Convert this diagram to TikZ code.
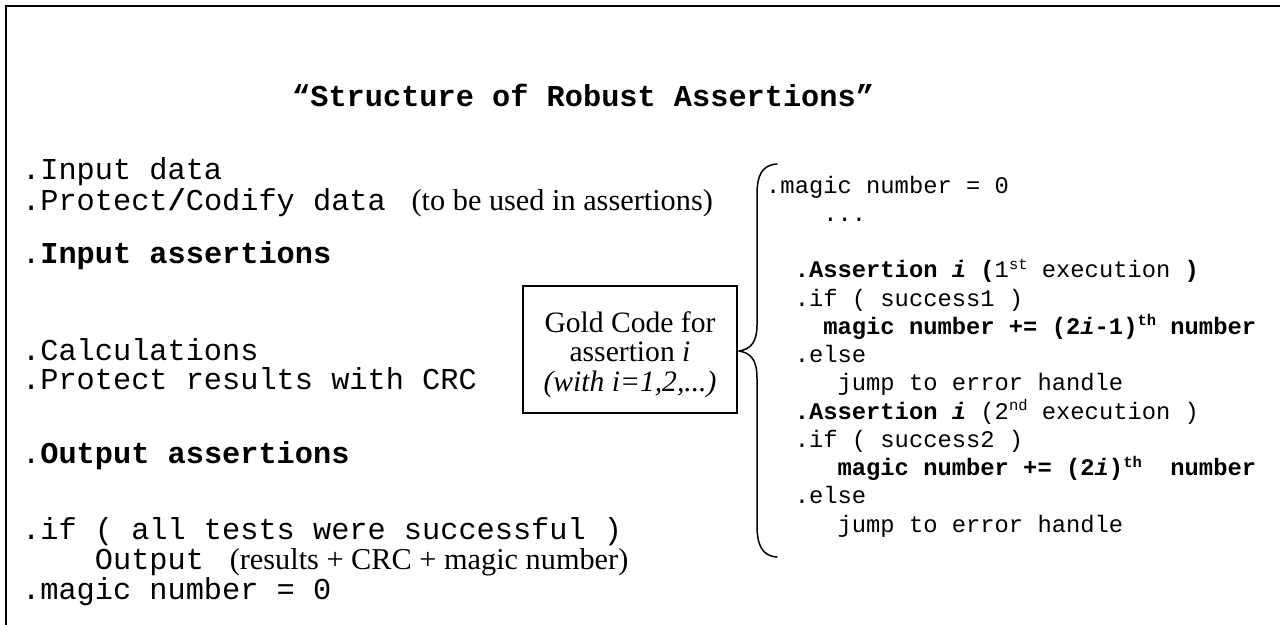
\documentclass[tikz,border=0pt]{standalone}
\usepackage{fontspec}
\setmainfont{Liberation Serif}
\setmonofont{Liberation Mono}
\frenchspacing
% small raised text used for ordinal suffixes
\newcommand\ordsup[1]{\raisebox{8.5pt}{\fontsize{15.5}{15.5}\selectfont #1}}
\begin{document}
\begin{tikzpicture}[x=1pt,y=-1pt,
  lcode/.style={anchor=base west, inner sep=0pt, font=\ttfamily\fontsize{30.3}{30.3}\selectfont},
  rcode/.style={anchor=base west, inner sep=0pt, font=\ttfamily\fontsize{23.8}{23.8}\selectfont},
  goldbox/.style={draw, line width=1.6pt, minimum width=214pt, minimum height=127pt, inner sep=0pt},
  goldtext/.style={inner sep=0pt, align=center, font=\rmfamily\fontsize{29.6}{29.5}\selectfont},
  frame/.style={line width=2.2pt},
  bracepath/.style={line width=1.5pt, line cap=round, line join=round},
]
\useasboundingbox (0,0) rectangle (1280,624);
\begin{scope}
\clip (0,0) rectangle (1280,624);
\draw[frame] (6,640) -- (6,6) -- (1300,6);
\end{scope}

% title
\node[lcode, font=\ttfamily\bfseries\fontsize{30.3}{30.3}\selectfont] (title) at (292,106)
  {“Structure of Robust Assertions”};

% main program steps
\def\ladv{18.18}
\node[lcode] (indata) at (22,179) {.Input data};
\node[lcode] (protect) at (22,210) {.Protect\textbf{/}Codify data {\rmfamily\ (to be used in assertions)}};
\node[lcode] (inassert) at (22,263) {.\textbf{Input assertions}};
\node[lcode] (calc) at (22,360) {.Calculations};
\node[lcode] (crc) at (22,389) {.Protect results with CRC};
\node[lcode] (outassert) at (22,463) {.\textbf{Output assertions}};
\node[lcode] (iftests) at (22,539) {.if ( all tests were successful )};
\node[lcode] (output) at ({22+4*\ladv},569) {Output {\rmfamily\ (results + CRC + magic number)}};
\node[lcode] (reset) at (22,599) {.magic number = 0};

% gold code box
\node[goldbox] (gold) at (630,349.5) {};
\node[goldtext] (goldlbl) at ([yshift=-5pt]gold.center)
  {Gold Code for\\assertion \textit{i}\\\textit{(with i=1,2,...)}};

% brace grouping the assertion code
\coordinate (btop) at (777,164);
\coordinate (btip) at (739,351);
\coordinate (bbot) at (777,557);
\draw[bracepath] (btop) .. controls (762,165) and (757,175) .. (757,195)
  -- (757,325) .. controls (757,342) and (751,349) .. (btip)
  .. controls (751,353) and (757,360) .. (757,378)
  -- (757,525) .. controls (757,545) and (762,556) .. (bbot);

% assertion code for one assertion
\def\rx{766}
\def\radv{14.28}
\def\ry#1{{193+28.25*#1}}
\node[rcode] (r0) at (\rx,\ry{0}) {.magic number = 0};
\node[rcode] (r1) at ({\rx+4*\radv},\ry{1}) {...};
\node[rcode] (r3) at ({\rx+2*\radv},\ry{3}) {\textbf{.Assertion \textit{i} (}1\ordsup{st} execution \textbf{)}};
\node[rcode] (r4) at ({\rx+2*\radv},\ry{4}) {.if ( success1 )};
\node[rcode] (r5) at ({\rx+4*\radv},\ry{5}) {\textbf{magic number += (2\textit{i}-1)\ordsup{th} number}};
\node[rcode] (r6) at ({\rx+2*\radv},\ry{6}) {.else};
\node[rcode] (r7) at ({\rx+5*\radv},\ry{7}) {jump to error handle};
\node[rcode] (r8) at ({\rx+2*\radv},\ry{8}) {\textbf{.Assertion \textit{i}} (2\ordsup{nd} execution )};
\node[rcode] (r9) at ({\rx+2*\radv},\ry{9}) {.if ( success2 )};
\node[rcode] (r10) at ({\rx+5*\radv},\ry{10}) {\textbf{magic number += (2\textit{i})\ordsup{th}\ \ number}};
\node[rcode] (r11) at ({\rx+2*\radv},\ry{11}) {.else};
\node[rcode] (r12) at ({\rx+5*\radv},\ry{12}) {jump to error handle};
\end{tikzpicture}
\end{document}
